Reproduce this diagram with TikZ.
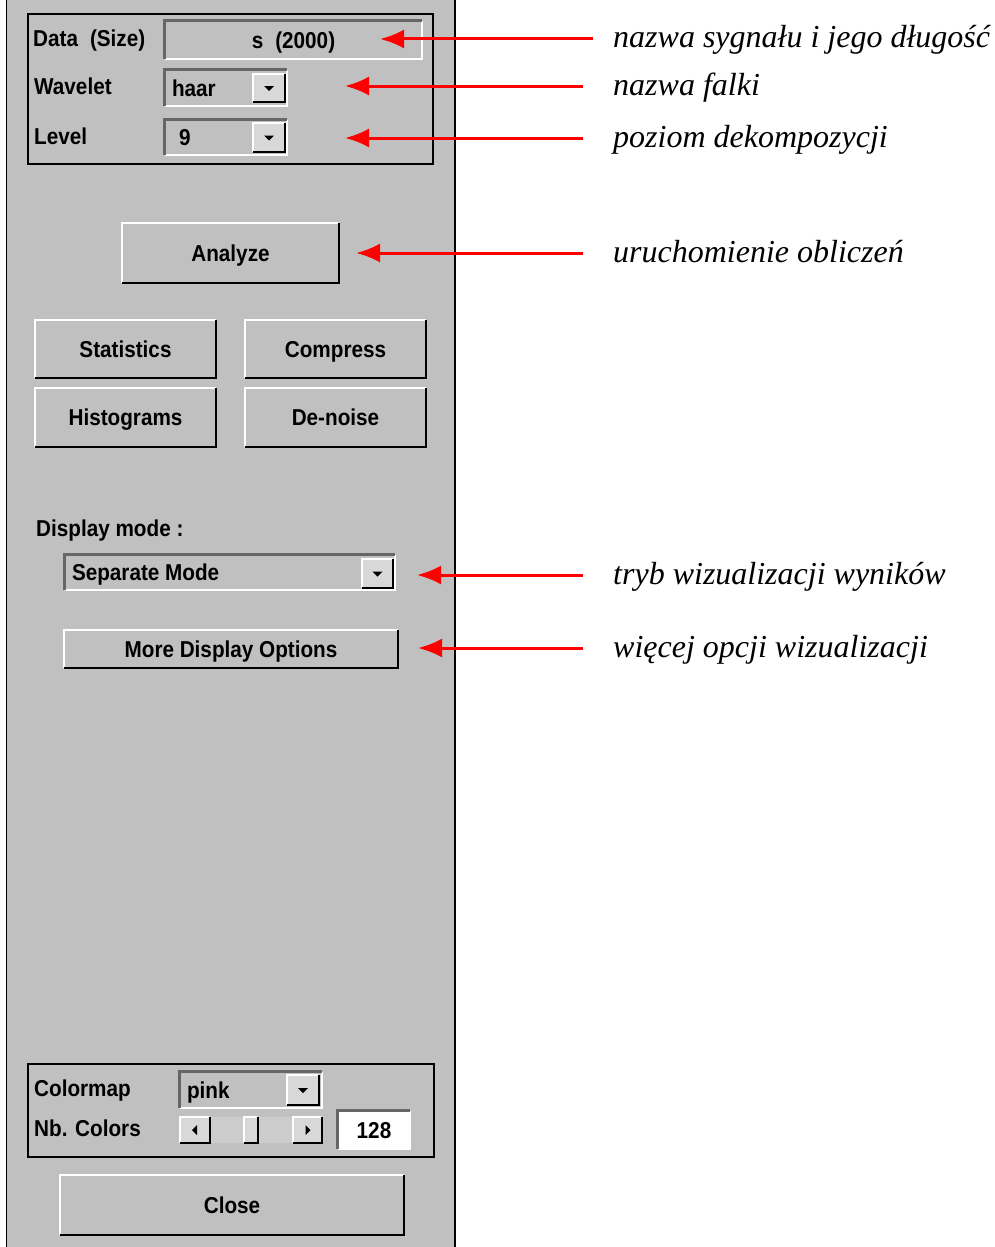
\documentclass[tikz,border=0pt]{standalone}
\usepackage{fontspec}
\setmainfont{Liberation Serif}
\newfontfamily\guifont{Liberation Sans}[FakeStretch=0.9]
\usetikzlibrary{arrows.meta}
\definecolor{gui}{HTML}{C0C0C0}
\definecolor{btnlight}{HTML}{D8D8D8}
\definecolor{trough}{HTML}{CCCCCC}
\definecolor{shadowgray}{HTML}{666666}
\definecolor{arrred}{HTML}{FF0000}
\newcommand\raisedB[1]{%
  \draw[white,line width=2pt] (#1.south west) -- (#1.north west) -- (#1.north east);
  \draw[black,line width=2pt] (#1.south west) -- (#1.south east) -- (#1.north east);
}
\newcommand\sunkenB[1]{%
  \draw[white,line width=2.5pt] (#1.south west) -- (#1.south east) -- (#1.north east);
  \draw[shadowgray,line width=3pt] (#1.south west) -- (#1.north west) -- (#1.north east);
}
\newcommand\downtri[1]{%
  \fill[black] ([shift={(-5,-2)}]#1.center) -- ++(10,0) -- ++(-5,5) -- cycle;
}
\tikzset{
  guitxt/.style={font=\guifont\bfseries\fontsize{23}{23}\selectfont, inner sep=0pt, text=black, text height=16.5pt, text depth=0pt},
  guibtn/.style={guitxt, fill=gui, draw=none},
  field/.style={fill=gui, draw=none, inner sep=0pt},
  ddbtn/.style={fill=btnlight, draw=none, inner sep=0pt},
  grpbox/.style={draw=black, line width=1.5pt, fill=none, inner sep=0pt},
  lab/.style={font=\itshape\fontsize{32}{32}\selectfont, inner xsep=#1, inner ysep=0pt, text height=22pt, text depth=4pt, anchor=west},
  arr/.style={draw=arrred, line width=3pt, -{Latex[length=24pt,width=19pt]}},
}
\begin{document}
\begin{tikzpicture}[x=1pt,y=-1pt]
\useasboundingbox (0,0) rectangle (995,1247);
% panel
\node[fill=gui, draw=none, minimum width=448pt, minimum height=1247pt, inner sep=0pt] (panel) at (231,623.5) {};
\draw[black,line width=1pt] (panel.north west) -- (panel.south west);
\draw[black,line width=2pt] (panel.north east) -- (panel.south east);

% top group box
\node[grpbox, minimum width=405pt, minimum height=150pt] (topgrp) at (230.5,89) {};
\node[guitxt, anchor=west] (ldata) at (33,38.5) {Data\hspace{12pt}(Size)};
\node[guitxt, anchor=west] (lwav) at (34,86) {Wavelet};
\node[guitxt, anchor=west] (llev) at (34,136) {Level};

\node[field, guitxt, minimum width=257pt, minimum height=38pt] (data) at (293.5,40) {s\hspace{12pt}(2000)};
\sunkenB{data}

\node[field, minimum width=122pt, minimum height=36pt] (wav) at (226,88) {};
\sunkenB{wav}
\node[guitxt, anchor=west] (wavtxt) at ([xshift=7pt]wav.west) {haar};
\node[ddbtn, minimum width=32pt, minimum height=28pt] (wavdd) at (269,88) {};
\raisedB{wavdd}
\downtri{wavdd}

\node[field, minimum width=122pt, minimum height=35pt] (lev) at (226,137.5) {};
\sunkenB{lev}
\node[guitxt, anchor=west] (levtxt) at ([xshift=14pt]lev.west) {9};
\node[ddbtn, minimum width=32pt, minimum height=28pt] (levdd) at (269,137.5) {};
\raisedB{levdd}
\downtri{levdd}

% buttons
\node[guibtn, minimum width=217pt, minimum height=60pt] (analyze) at (230.5,253) {Analyze};
\raisedB{analyze}
\node[guibtn, minimum width=181pt, minimum height=58pt] (stats) at (125.5,349) {Statistics};
\raisedB{stats}
\node[guibtn, minimum width=181pt, minimum height=58pt] (compress) at (335.5,349) {Compress};
\raisedB{compress}
\node[guibtn, minimum width=181pt, minimum height=59pt] (hist) at (125.5,417.5) {Histograms};
\raisedB{hist}
\node[guibtn, minimum width=181pt, minimum height=59pt] (denoise) at (335.5,417.5) {De-noise};
\raisedB{denoise}

% display mode
\node[guitxt, anchor=west] (ldisp) at (36,528) {Display mode :};
\node[field, minimum width=330pt, minimum height=35pt] (sep) at (230,572.5) {};
\sunkenB{sep}
\node[guitxt, anchor=west] (septxt) at ([xshift=7pt]sep.west) {Separate Mode};
\node[ddbtn, minimum width=31pt, minimum height=29pt] (sepdd) at (377.5,573.5) {};
\raisedB{sepdd}
\downtri{sepdd}

\node[guibtn, minimum width=334pt, minimum height=38pt] (more) at (231,649) {More Display Options};
\raisedB{more}

% bottom group
\node[grpbox, minimum width=406pt, minimum height=93pt] (botgrp) at (231,1110.5) {};
\node[guitxt, anchor=west] (lcmap) at (34,1088) {Colormap};
\node[guitxt, anchor=west] (lnb) at (34,1128) {Nb. Colors};

\node[field, minimum width=142pt, minimum height=36pt] (pink) at (251,1090) {};
\sunkenB{pink}
\node[guitxt, anchor=west] (pinktxt) at ([xshift=7pt]pink.west) {pink};
\node[ddbtn, minimum width=32pt, minimum height=30pt] (pinkdd) at (303,1090) {};
\raisedB{pinkdd}
\downtri{pinkdd}

\node[fill=trough, draw=none, inner sep=0pt, minimum width=143pt, minimum height=26pt] (slider) at (251.5,1130) {};
\node[ddbtn, minimum width=30pt, minimum height=26pt] (sleft) at (195,1130) {};
\raisedB{sleft}
\fill[black] ([shift={(-3,0)}]sleft.center) -- ++(5,-5) -- ++(0,10) -- cycle;
\node[ddbtn, minimum width=29pt, minimum height=26pt] (sright) at (307.5,1130) {};
\raisedB{sright}
\fill[black] ([shift={(3,0)}]sright.center) -- ++(-5,-5) -- ++(0,10) -- cycle;
\node[ddbtn, minimum width=13pt, minimum height=26pt] (sthumb) at (251,1130) {};
\raisedB{sthumb}

\node[fill=white, draw=none, guitxt, minimum width=72pt, minimum height=38pt] (nb) at (374,1130) {128};
\sunkenB{nb}

\node[guibtn, minimum width=344pt, minimum height=60pt] (close) at (232,1205) {Close};
\raisedB{close}

% annotations
\node[lab=20pt] (l1) at (593,39) {nazwa sygnału i jego długość};
\node[lab=30pt] (l2) at (583,86) {nazwa falki};
\node[lab=30pt] (l3) at (583,138) {poziom dekompozycji};
\node[lab=30pt] (l4) at (583,253) {uruchomienie obliczeń};
\node[lab=30pt] (l5) at (583,575) {tryb wizualizacji wyników};
\node[lab=30pt] (l6) at (583,648) {więcej opcji wizualizacji};
\coordinate (t1) at (380,39);
\coordinate (t2) at (345,86);
\coordinate (t3) at (345,138);
\coordinate (t4) at (356,253);
\coordinate (t5) at (417,575);
\coordinate (t6) at (418,648);
\draw[arr] (l1.west) -- (t1);
\draw[arr] (l2.west) -- (t2);
\draw[arr] (l3.west) -- (t3);
\draw[arr] (l4.west) -- (t4);
\draw[arr] (l5.west) -- (t5);
\draw[arr] (l6.west) -- (t6);
\end{tikzpicture}
\end{document}
